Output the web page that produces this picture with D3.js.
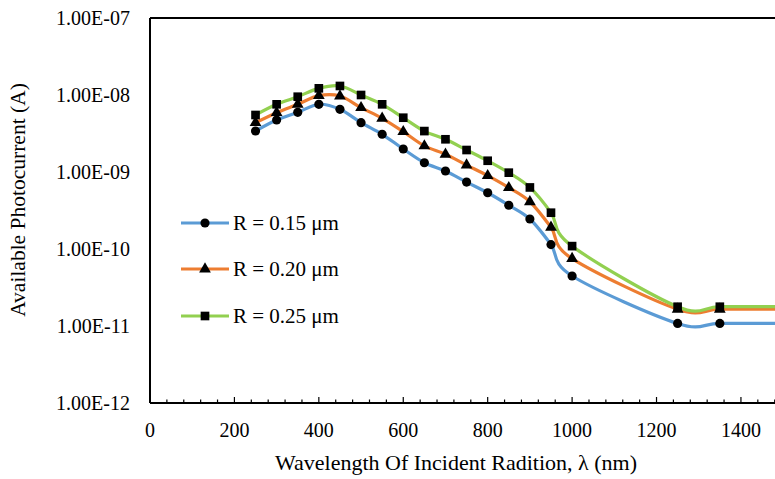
<!DOCTYPE html>
<html>
<head>
<meta charset="utf-8">
<script src="https://cdn.jsdelivr.net/npm/d3@7"></script>
<style>
  body { margin: 0; background: #fff; }
</style>
</head>
<body>
<script>
// wavelengths (nm); last one sits past the right edge so the lines run flat off the chart
const wavelength = [250, 300, 350, 400, 450, 500, 550, 600, 650, 700, 750, 800, 850, 900, 950, 1000, 1250, 1350, 1500];
const r015 = [3.41e-9, 4.73e-9, 5.96e-9, 7.57e-9, 6.52e-9, 4.37e-9, 3.09e-9, 1.99e-9, 1.32e-9, 1.03e-9, 7.4e-10, 5.38e-10, 3.70e-10, 2.45e-10, 1.14e-10, 4.46e-11, 1.08e-11, 1.08e-11, 1.08e-11];
const r020 = [4.37e-9, 5.89e-9, 7.57e-9, 9.8e-9, 9.7e-9, 6.84e-9, 4.98e-9, 3.34e-9, 2.18e-9, 1.70e-9, 1.23e-9, 8.95e-10, 6.25e-10, 4.11e-10, 1.91e-10, 7.5e-11, 1.65e-11, 1.65e-11, 1.65e-11];
const r025 = [5.5e-9, 7.57e-9, 9.5e-9, 1.22e-8, 1.31e-8, 1.0e-8, 7.57e-9, 5.07e-9, 3.4e-9, 2.66e-9, 1.93e-9, 1.40e-9, 9.8e-10, 6.3e-10, 2.96e-10, 1.09e-10, 1.78e-11, 1.78e-11, 1.78e-11];
const seriesNames = ["R = 0.15 \u03bcm", "R = 0.20 \u03bcm", "R = 0.25 \u03bcm"];
const seriesColors = ["#5b9bd5", "#ed7d31", "#92d050"];
const seriesMarkers = [d3.symbolCircle, d3.symbolTriangle, d3.symbolSquare];
const xTickValues = [0, 200, 400, 600, 800, 1000, 1200, 1400];
const xTickLabels = ["0", "200", "400", "600", "800", "1000", "1200", "1400"];
const yTickValues = [1e-12, 1e-11, 1e-10, 1e-9, 1e-8, 1e-7];
const yTickLabels = ["1.00E-12", "1.00E-11", "1.00E-10", "1.00E-09", "1.00E-08", "1.00E-07"];

const W = 775, H = 479;
const margin = { top: 18, left: 150, bottom: 76 };
const plotH = H - margin.top - margin.bottom;
const FONT = "'Liberation Serif'";

const svg = d3.select("body").append("svg")
    .attr("width", W)
    .attr("height", H)
    .attr("xmlns", "http://www.w3.org/2000/svg");

const x = d3.scaleLinear().domain([0, 1500]).range([margin.left, margin.left + 1500 * 0.4221]);
const y = d3.scaleLog().domain([1e-12, 1e-7]).range([margin.top + plotH, margin.top]);

svg.append("clipPath").attr("id", "plot")
    .append("rect")
    .attr("x", margin.left).attr("y", margin.top - 10)
    .attr("width", W - margin.left).attr("height", plotH + 10);

// frame: top and left lines
svg.append("line")
    .attr("x1", margin.left).attr("x2", W)
    .attr("y1", y(1e-7)).attr("y2", y(1e-7))
    .attr("stroke", "#000").attr("stroke-width", 2);
svg.append("line")
    .attr("x1", margin.left).attr("x2", margin.left)
    .attr("y1", y(1e-7)).attr("y2", y(1e-12))
    .attr("stroke", "#000").attr("stroke-width", 2);

// x axis, ticks pointing inward
const bottomA = svg.append("g").attr("transform", "translate(0," + y(1e-12) + ")");
bottomA.append("line")
    .attr("x1", margin.left).attr("x2", W)
    .attr("stroke", "#000").attr("stroke-width", 2);
const minor = d3.range(40, 1500, 40).filter(d => d % 200 !== 0);
bottomA.selectAll(".minor").data(minor).join("line")
    .attr("x1", d => x(d)).attr("x2", d => x(d))
    .attr("y1", 0).attr("y2", -3.5)
    .attr("stroke", "#000").attr("stroke-width", 1.2);
bottomA.selectAll(".major").data(xTickValues).join("line")
    .attr("x1", d => x(d)).attr("x2", d => x(d))
    .attr("y1", 0).attr("y2", -6)
    .attr("stroke", "#000").attr("stroke-width", 1.2);
bottomA.selectAll(".lab").data(xTickValues).join("text")
    .attr("x", d => x(d))
    .attr("y", 27)
    .attr("text-anchor", "middle")
    .attr("dominant-baseline", "central")
    .style("font-family", FONT)
    .style("font-size", "20px")
    .text((d, i) => xTickLabels[i]);

// y labels, no ticks
svg.selectAll(".ylab").data(yTickValues).join("text")
    .attr("x", 130)
    .attr("y", d => y(d))
    .attr("text-anchor", "end")
    .attr("dominant-baseline", "central")
    .style("font-family", FONT)
    .style("font-size", "20px")
    .text((d, i) => yTickLabels[i]);

svg.append("text")
    .attr("transform", "translate(18," + 200 + ") rotate(-90)")
    .attr("text-anchor", "middle")
    .attr("dominant-baseline", "central")
    .style("font-family", FONT)
    .style("font-size", "21.5px")
    .text("Available Photocurrent (A)");
svg.append("text")
    .attr("x", 456)
    .attr("y", 462)
    .attr("text-anchor", "middle")
    .attr("dominant-baseline", "central")
    .style("font-family", FONT)
    .style("font-size", "22px")
    .text("Wavelength Of Incident Radition, \u03bb (nm)");

const allSeries = [r015, r020, r025];
const line = d3.line()
    .x((d, i) => x(wavelength[i]))
    .y(d => y(d))
    .curve(d3.curveCardinal.tension(0));

const plot = svg.append("g").attr("clip-path", "url(#plot)");
allSeries.forEach((vals, s) => {
    plot.append("path")
        .datum(vals)
        .attr("fill", "none")
        .attr("stroke", seriesColors[s])
        .attr("stroke-width", 3.2)
        .attr("d", line);
});
const markerSize = [66, 60, 75];
allSeries.forEach((vals, s) => {
    plot.selectAll(".m" + s).data(vals).join("path")
        .attr("transform", (d, i) => "translate(" + x(wavelength[i]) + "," + y(d) + ")")
        .attr("d", d3.symbol().type(seriesMarkers[s]).size(markerSize[s]))
        .attr("fill", "#000");
});

// legend
const legendY = [223, 269, 316];
seriesNames.forEach((name, s) => {
    const g = svg.append("g").attr("transform", "translate(0," + legendY[s] + ")");
    g.append("line")
        .attr("x1", 181).attr("x2", 229)
        .attr("stroke", seriesColors[s]).attr("stroke-width", 3.2);
    g.append("path")
        .attr("transform", "translate(205,0)")
        .attr("d", d3.symbol().type(seriesMarkers[s]).size(markerSize[s]))
        .attr("fill", "#000");
    g.append("text")
        .attr("x", 233)
        .attr("dominant-baseline", "central")
        .style("font-family", FONT)
        .style("font-size", "21px")
        .text(name);
});
</script>
</body>
</html>
